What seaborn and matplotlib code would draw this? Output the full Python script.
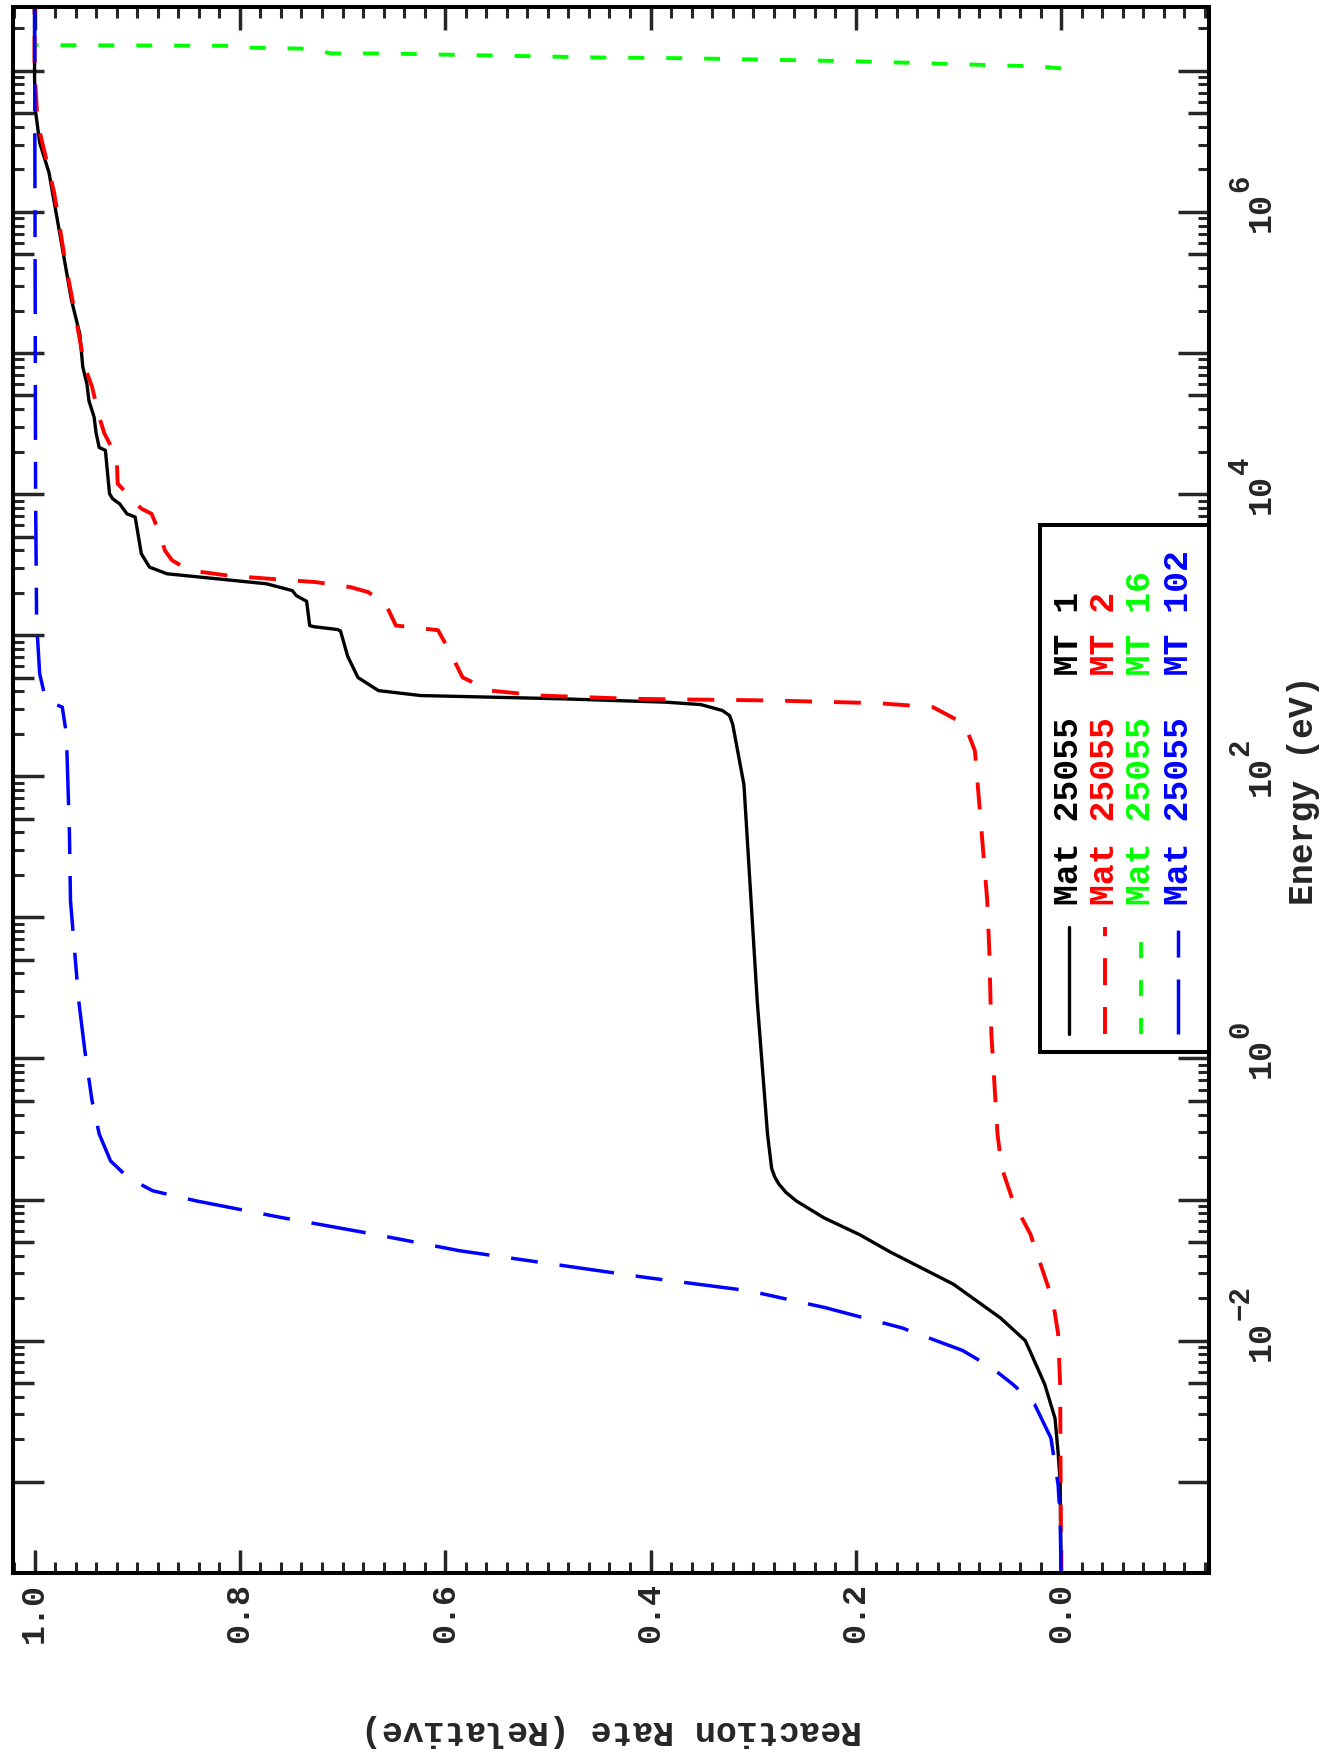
import numpy as np
import matplotlib
matplotlib.use("Agg")
import matplotlib.pyplot as plt
import seaborn as sns
from matplotlib.lines import Line2D
from matplotlib.patches import Rectangle
from matplotlib.ticker import FixedLocator, MultipleLocator, FuncFormatter, NullFormatter
from matplotlib.transforms import blended_transform_factory, offset_copy

# values: log10(E / eV) and relative reaction rate
mt1_loge = [-3.7, -3.0, -2.79, -2.55, -2.31, -2.08, -2.0, -1.84, -1.60, -1.37, -1.25, -1.13,
            -1.01, -0.95, -0.89, -0.84, -0.78, -0.66, -0.54, -0.07, 0.40, 1.11, 1.94, 2.37,
            2.43, 2.466, 2.508, 2.525, 2.549, 2.572, 2.607, 2.70, 2.85, 3.03, 3.04, 3.06,
            3.068, 3.24, 3.28, 3.316, 3.364, 3.40, 3.435, 3.482, 3.577, 3.837, 3.86, 3.93,
            3.967, 4.003, 4.31, 4.33, 4.43, 4.546, 4.66, 4.78, 4.90, 5.137, 5.373, 5.87, 6.28,
            6.49, 6.71, 6.95, 7.5]
mt1_rate = [0.0, 0.001, 0.003, 0.006, 0.016, 0.030, 0.035, 0.059, 0.105, 0.167, 0.196, 0.231,
            0.258, 0.268, 0.275, 0.279, 0.282, 0.284, 0.286, 0.291, 0.296, 0.302, 0.309, 0.320,
            0.323, 0.330, 0.351, 0.385, 0.487, 0.624, 0.665, 0.685, 0.695, 0.702, 0.705, 0.728,
            0.732, 0.735, 0.745, 0.749, 0.774, 0.823, 0.871, 0.888, 0.896, 0.902, 0.910, 0.917,
            0.924, 0.927, 0.931, 0.937, 0.940, 0.942, 0.947, 0.949, 0.953, 0.956, 0.964, 0.976,
            0.986, 0.995, 0.999, 1.0, 1.0]

mt2_loge = [-3.7, -2.31, -1.95, -1.72, -1.482, -1.245, -1.01, -0.773, -0.536, 0.173, 0.764,
            1.118, 2.18, 2.37, 2.49, 2.518, 2.537, 2.549, 2.572, 2.607, 2.70, 2.89, 3.035,
            3.05, 3.068, 3.22, 3.305, 3.34, 3.376, 3.42, 3.459, 3.53, 3.60, 3.72, 3.86, 3.897,
            3.955, 4.074, 4.26, 4.43, 4.546, 4.76, 4.90, 5.137, 5.373, 5.60, 6.14, 6.416, 6.63,
            7.0, 7.5]
mt2_rate = [0.0, 0.001, 0.003, 0.008, 0.019, 0.030, 0.047, 0.058, 0.062, 0.068, 0.070,
            0.072, 0.084, 0.094, 0.125, 0.179, 0.282, 0.419, 0.508, 0.556, 0.583, 0.596, 0.607,
            0.624, 0.648, 0.658, 0.675, 0.692, 0.726, 0.809, 0.849, 0.866, 0.873, 0.878, 0.886,
            0.896, 0.904, 0.919, 0.920, 0.932, 0.937, 0.944, 0.951, 0.957, 0.963, 0.969, 0.981,
            0.990, 0.997, 1.0, 1.0]

mt16_loge = [7.017, 7.03, 7.057, 7.067, 7.089, 7.094, 7.123, 7.123, 7.156, 7.166, 7.177, 7.182]
mt16_rate = [0.0, 0.02, 0.150, 0.198, 0.365, 0.449, 0.661, 0.711, 0.732, 0.807, 0.810, 0.998]

mt102_loge = [-3.7, -3.255, -3.02, -2.69, -2.45, -2.31, -2.19, -2.07, -1.91, -1.766, -1.647,
              -1.553, -1.458, -1.363, -1.245, -1.127, -1.009, -0.938, -0.844, -0.726, -0.536,
              -0.30, 0.054, 0.41, 0.764, 1.118, 1.59, 2.30, 2.49, 2.537, 2.726, 3.09, 4.0, 7.5]
mt102_rate = [0.0, 0.001, 0.003, 0.010, 0.026, 0.047, 0.068, 0.096, 0.155, 0.230, 0.304,
              0.404, 0.495, 0.586, 0.670, 0.760, 0.843, 0.885, 0.909, 0.926, 0.937,
              0.944, 0.951, 0.957, 0.961, 0.965, 0.966, 0.969, 0.973, 0.989, 0.995, 0.998, 0.999, 1.0]

labels = ["Mat 25055  MT 1", "Mat 25055  MT 2", "Mat 25055  MT 16", "Mat 25055  MT 102"]
colors = ["black", "#ff0000", "#00ff00", "#0000ff"]
rate_ticks = [0.0, 0.2, 0.4, 0.6, 0.8, 1.0]
decades = list(range(-3, 8))
label_decades = [-2, 0, 2, 4, 6]

sns.set_style("ticks")
plt.rcParams["font.family"] = ["Liberation Mono", "DejaVu Sans"]
plt.rcParams["font.weight"] = "bold"
plt.rcParams["lines.scale_dashes"] = False

series = [
    (mt1_loge, mt1_rate, 2.4, None),
    (mt2_loge, mt2_rate, 2.8, [19.4, 15.8]),
    (mt16_loge, mt16_rate, 2.8, [11.5, 15.8]),
    (mt102_loge, mt102_rate, 2.5, [39.6, 15.8, 19.4, 15.8]),
]

fig = plt.figure(figsize=(13.35, 17.53), dpi=100)
ax = fig.add_axes([13 / 1335, 180 / 1753, 1196 / 1335, 1565.7 / 1753])
ax.set_yscale("log")

for (loge, rate, lw, dash), c in zip(series, colors):
    sns.lineplot(x=np.array(rate), y=np.power(10.0, loge), sort=False, estimator=None,
                 color=c, linewidth=lw, ax=ax)
    if dash is not None:
        ax.lines[-1].set_dashes(dash)

ax.set_xlim(1.021, -0.144)
ax.set_ylim(10 ** -3.647, 10 ** 7.45)

# rate axis (horizontal, reversed)
ax.xaxis.set_major_locator(FixedLocator(rate_ticks))
ax.xaxis.set_minor_locator(MultipleLocator(0.02))
ax.xaxis.set_major_formatter(FuncFormatter(lambda v, p: f"{v:.1f}"))
ax.tick_params(axis="x", which="both", direction="in", top=True, bottom=True,
               labelbottom=True, labeltop=False, labelrotation=90, pad=7, labelsize=24)
ax.tick_params(axis="x", which="major", length=16.5, width=2.5)
ax.tick_params(axis="x", which="minor", length=8, width=2.2)

# energy axis (vertical, log); decade labels are written below as 10 + raised exponent
major_e = sorted([10.0 ** k for k in decades] + [5 * 10.0 ** k for k in decades])
minor_e = [m * 10.0 ** k for k in decades for m in (2, 3, 4, 6, 7, 8, 9)]
ax.yaxis.set_major_locator(FixedLocator(major_e))
ax.yaxis.set_minor_locator(FixedLocator(minor_e))
ax.yaxis.set_major_formatter(NullFormatter())
ax.yaxis.set_minor_formatter(NullFormatter())
ax.tick_params(axis="y", which="both", direction="in", left=True, right=True,
               labelleft=False, labelright=False)
ax.tick_params(axis="y", which="major", length=22, width=2.5)
ax.tick_params(axis="y", which="minor", length=8, width=2.2)

lab_tr = blended_transform_factory(ax.transAxes, ax.transData)
sup_tr = offset_copy(lab_tr, fig=fig, x=0, y=14.5, units="points")
for k in label_decades:
    ax.text(1.0510, 10.0 ** k, "10", transform=lab_tr, rotation=90, rotation_mode="anchor",
            ha="center", va="baseline", fontsize=24, fontweight="bold", clip_on=False)
    ax.text(1.0330, 10.0 ** k, str(k).replace("-", "\u2212"), transform=sup_tr, rotation=90,
            rotation_mode="anchor", ha="left", va="baseline", fontsize=21, fontweight="bold",
            clip_on=False)

for s in ax.spines.values():
    s.set_linewidth(2.9)
    s.set_color("black")

ax.set_xlabel("Reaction Rate (Relative)", fontsize=25, fontweight="bold", rotation=180)
ax.xaxis.set_label_coords(0.5, -0.1003)
ax.xaxis.label.set_va("center")
ax.yaxis.set_label_position("right")
ax.set_ylabel("Energy (eV)", fontsize=25, fontweight="bold", rotation=90)
ax.yaxis.set_label_coords(1.0794, 0.5)
ax.yaxis.label.set_va("center")
ax.yaxis.label.set_ha("center")

# legend drawn by hand because the whole page is turned on its side
ax.add_patch(Rectangle((0.8587, 0.3328), 1 - 0.8587, 0.6693 - 0.3328, transform=ax.transAxes,
                       facecolor="white", edgecolor="black", lw=2.9, zorder=5, clip_on=False))
col_x = [0.8829, 0.9130, 0.9431, 0.9741]
for (loge, rate, lw, dash), c, lab, cx in zip(series, colors, labels, col_x):
    ln = Line2D([cx, cx], [0.3443, 0.4126], transform=ax.transAxes, color=c, lw=lw, zorder=6)
    if dash is not None:
        ln.set_dashes(dash)
    ax.add_line(ln)
    ax.text(cx, 0.4266, lab, transform=ax.transAxes, rotation=90, ha="center", va="bottom",
            color=c, fontsize=25, fontweight="bold", zorder=6)

fig.canvas.draw()
locs = ax.yaxis.get_majorticklocs()
for tick, loc in zip(ax.yaxis.get_major_ticks(), locs):
    k = np.log10(loc)
    if abs(k - round(k)) > 1e-6:
        tick.tick1line.set_markersize(15)
        tick.tick2line.set_markersize(15)

fig.savefig("out.png", dpi=100, facecolor="white")
plt.close(fig)
